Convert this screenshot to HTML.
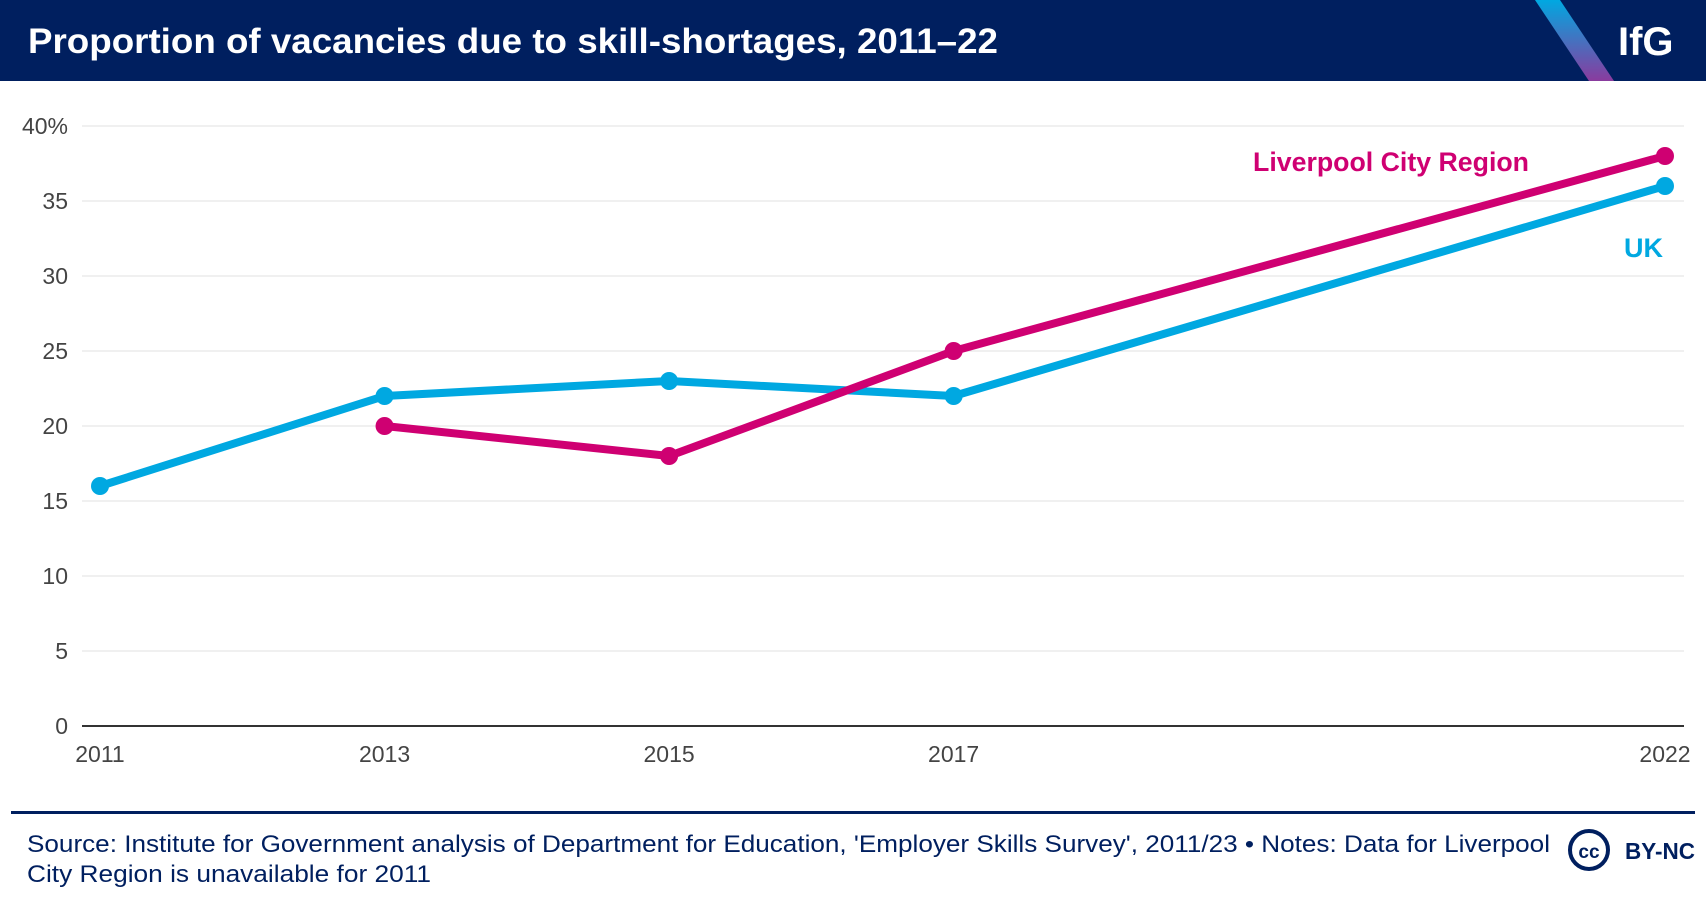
<!DOCTYPE html>
<html><head><meta charset="utf-8"><style>
body{margin:0;width:1706px;height:902px;background:#fff;font-family:"Liberation Sans",sans-serif;overflow:hidden}
</style></head><body>
<svg width="1706" height="902" xmlns="http://www.w3.org/2000/svg">
<defs><linearGradient id="g" x1="0" y1="0" x2="0" y2="1"><stop offset="0" stop-color="#00a8e1"/><stop offset="1" stop-color="#8a3b9e"/></linearGradient></defs>
<rect x="0" y="0" width="1706" height="81" fill="#001f5f"/>
<polygon points="1535,0 1560,0 1614,81 1589,81" fill="url(#g)"/>
<text x="28" y="53" fill="#fff" font-size="35" font-weight="bold" textLength="970" lengthAdjust="spacingAndGlyphs">Proportion of vacancies due to skill-shortages, 2011–22</text>
<text x="1618" y="55" fill="#fff" font-size="40" font-weight="bold">IfG</text>
<g id="grid"></g><g id="plot"></g>
<rect x="11" y="811" width="1684" height="3" fill="#001f5f"/>
<text font-size="24" fill="#001f5f"><tspan x="27" y="852" textLength="1523" lengthAdjust="spacingAndGlyphs">Source: Institute for Government analysis of Department for Education, 'Employer Skills Survey', 2011/23 • Notes: Data for Liverpool</tspan><tspan x="27" y="882" textLength="404" lengthAdjust="spacingAndGlyphs">City Region is unavailable for 2011</tspan></text>
<circle cx="1589" cy="850" r="19" fill="none" stroke="#001f5f" stroke-width="4"/>
<text x="1589" y="858" text-anchor="middle" font-size="19" font-weight="bold" fill="#001f5f">cc</text>
<text x="1625" y="859" font-size="23" font-weight="bold" fill="#001f5f" textLength="70" lengthAdjust="spacingAndGlyphs">BY-NC</text>
</svg>
<script>
const years=[2011,2013,2015,2017,2022];
const ukValues=[16,22,23,22,36];
const lcrValues=[null,20,18,25,38];
const yTicks=[0,5,10,15,20,25,30,35,40];
const yTickLabels=["0","5","10","15","20","25","30","35","40%"];
const NS="http://www.w3.org/2000/svg";
const X=y=>100+(y-2011)*(1665-100)/11;
const Y=v=>726-v*(726-126)/40;
function mk(t,a,p){const e=document.createElementNS(NS,t);for(const k in a)e.setAttribute(k,a[k]);p.appendChild(e);return e;}
const grid=document.getElementById('grid'),plot=document.getElementById('plot');
yTicks.forEach((v,i)=>{
 if(v>0){const l=mk('line',{x1:82,x2:1684,y1:Y(v),y2:Y(v),stroke:'#ebebeb','stroke-width':1.5},grid);
 
 }
 const t=mk('text',{x:68,y:Y(v)+8,'text-anchor':'end','font-size':23,fill:'#444'},grid);t.textContent=yTickLabels[i];
 
 
});
const ax=mk('line',{x1:82,x2:1684,y1:726,y2:726,stroke:'#333','stroke-width':2},grid);


years.forEach(y=>{const t=mk('text',{x:X(y),y:762,'text-anchor':'middle','font-size':23,fill:'#444'},grid);t.textContent=y;
 
 });
function series(vals,color,name){
 const pts=[];vals.forEach((v,i)=>{if(v!=null)pts.push([X(years[i]),Y(v)]);});
 const p=mk('polyline',{points:pts.map(p=>p.join(',')).join(' '),fill:'none',stroke:color,'stroke-width':8,'stroke-linejoin':'round'},plot);
 
 
 pts.forEach(q=>{const c=mk('circle',{cx:q[0],cy:q[1],r:9,fill:color},plot);
  
  });
}
series(ukValues,'#00a8e1','uk');
series(lcrValues,'#cf0072','liverpool');
const l1=mk('text',{x:1529,y:171,'text-anchor':'end','font-size':27,'font-weight':'bold',fill:'#cf0072',textLength:276,lengthAdjust:'spacingAndGlyphs'},plot);l1.textContent='Liverpool City Region';


const l2=mk('text',{x:1663,y:257,'text-anchor':'end','font-size':27,'font-weight':'bold',fill:'#00a8e1'},plot);l2.textContent='UK';


</script>
</body></html>
